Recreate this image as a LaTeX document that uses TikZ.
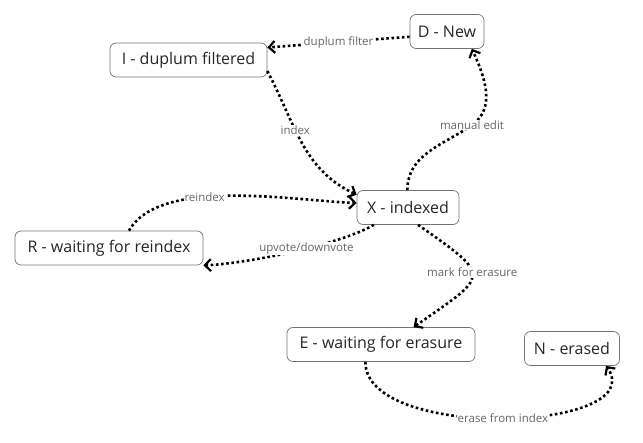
\documentclass[tikz,border=0pt]{standalone}
\usepackage{fontspec}
\setmainfont{Open Sans}
\usetikzlibrary{arrows.meta}

\begin{document}
\begin{tikzpicture}[x=1pt, y=-1pt,
		state/.style={draw=black!55, line width=0.7pt, rounded corners=6pt, minimum height=34pt, text=black!85, font=\fontsize{16}{18}\selectfont},
		trans/.style={line width=2.6pt, dash pattern=on 2.6pt off 2.6pt, -{Straight Barb[length=6pt, width=12pt, line width=2.2pt]}},
		lbl/.style={fill=white, inner sep=1pt, text=black!60, font=\fontsize{11.5}{13}\selectfont}]
		\useasboundingbox (0, 0) rectangle (643, 443);
		\node [state, minimum width=74pt] (d) at (447, 31.5) {D - New};
		\node [state, minimum width=157pt] (i) at (188.5, 60) {I - duplum filtered};
		\node [state, minimum width=102pt] (x) at (408, 207.5) {X - indexed};
		\node [state, minimum width=188pt] (r) at (109, 248) {R - waiting for reindex};
		\node [state, minimum width=188pt] (e) at (381, 344.5) {E - waiting for erasure};
		\node [state, minimum width=95pt] (n) at (572, 348.5) {N - erased};
		\coordinate (me) at (472, 125);
		\draw [trans] (d.188) -- node [lbl] {duplum filter} (i.9);
		\draw [trans] (i.-8) to [out=-62, in=155] node [lbl, pos=0.4] {index} (x.166);
		\draw [trans] (x.92) to [out=90, in=215] (me) node [lbl] {manual edit} to [out=35, in=-65] (d.-35);
		\draw [trans] (r.41) to [out=60, in=178, looseness=0.7] node [lbl, pos=0.4] {reindex} (x.175);
		\draw [trans] (x.207) to [out=210, in=2, looseness=0.6] node [lbl, pos=0.42] {upvote/downvote} (r.south east);
		\draw [trans] (x.-60) to [out=-35, in=35, looseness=2.3] node [lbl, pos=0.45] {mark for erasure} (e.28);
		\draw [trans] (e.-132) to [out=-90, in=-55, looseness=0.85] node [lbl, pos=0.5] {erase from index} (n.-27);
	\end{tikzpicture}
\end{document}
